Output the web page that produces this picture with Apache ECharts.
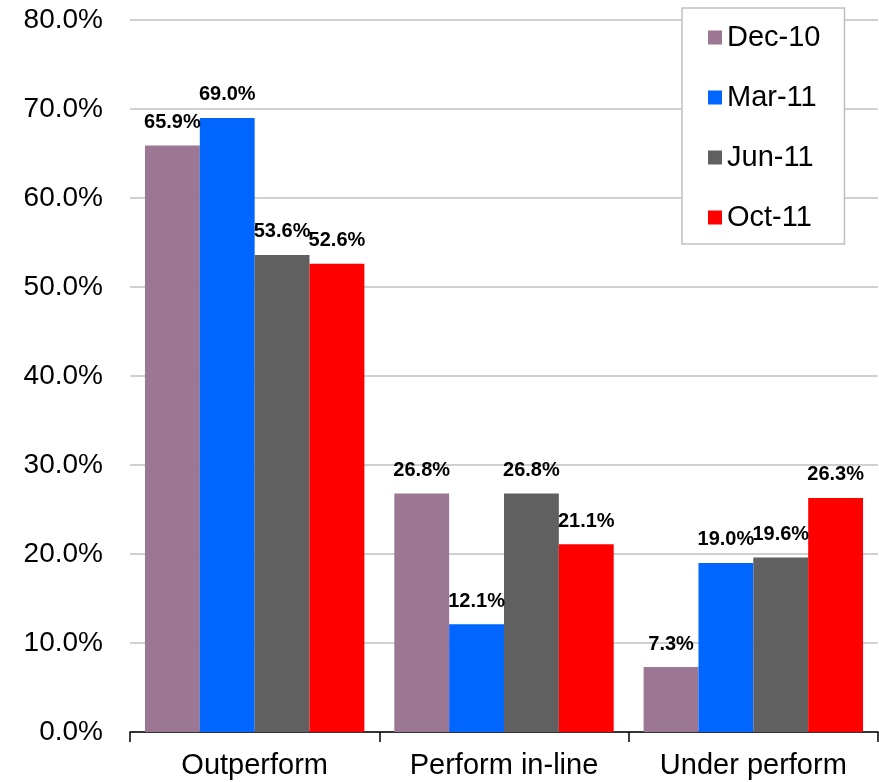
<!DOCTYPE html>
<html>
<head>
<meta charset="utf-8">
<script src="https://cdn.jsdelivr.net/npm/echarts@6/dist/echarts.min.js"></script>
<style>html,body{margin:0;padding:0;background:#fff;}#c{width:879px;height:782px;}</style>
</head>
<body>
<div id="c"></div>
<script>
var categories = ['Outperform', 'Perform in-line', 'Under perform'];
var seriesNames = ['Dec-10', 'Mar-11', 'Jun-11', 'Oct-11'];
var dec10 = [65.9, 26.8, 7.3];
var mar11 = [69.0, 12.1, 19.0];
var jun11 = [53.6, 26.8, 19.6];
var oct11 = [52.6, 21.1, 26.3];
var colors = ['#9B7793', '#0066FF', '#606060', '#FF0000'];
var yTicks = [0, 10, 20, 30, 40, 50, 60, 70, 80];

var allData = [dec10, mar11, jun11, oct11];
var chart = echarts.init(document.getElementById('c'));
var font = 'Arial, "Liberation Sans", sans-serif';
chart.setOption({
  animation: false,
  grid: { left: 130, right: 1, top: 20, bottom: 50 },
  legend: {
    orient: 'vertical',
    left: 682, top: 8,
    padding: [15, 24, 12, 26],
    backgroundColor: '#fff',
    borderColor: '#c0c0c0', borderWidth: 1.5,
    itemWidth: 14, itemHeight: 14, itemGap: 31,
    icon: 'rect',
    textStyle: { fontSize: 29, fontFamily: font, color: '#000', lineHeight: 29 },
    data: seriesNames
  },
  xAxis: {
    type: 'category', data: categories,
    axisLine: { lineStyle: { color: '#000', width: 1.5 } },
    axisTick: { show: true, length: 10, lineStyle: { color: '#000', width: 1.5 } },
    axisLabel: { fontSize: 29, fontFamily: font, color: '#000', margin: 19 }
  },
  yAxis: {
    type: 'value', min: yTicks[0], max: yTicks[yTicks.length - 1], interval: 10,
    axisLine: { show: false }, axisTick: { show: false },
    splitLine: { lineStyle: { color: '#c0c0c0', width: 1.5 } },
    axisLabel: { fontSize: 28, fontFamily: font, color: '#000', margin: 27,
      formatter: function (v) { return v.toFixed(1) + '%'; } }
  },
  series: seriesNames.map(function (n, i) {
    return {
      name: n, type: 'bar', data: allData[i],
      barGap: '0%', barCategoryGap: '12%',
      itemStyle: { color: colors[i] },
      label: { show: true, position: 'top', distance: 13,
        fontSize: 20, fontWeight: 'bold', fontFamily: font, color: '#000',
        formatter: function (p) { return p.value.toFixed(1) + '%'; } }
    };
  })
});
</script>
</body>
</html>
